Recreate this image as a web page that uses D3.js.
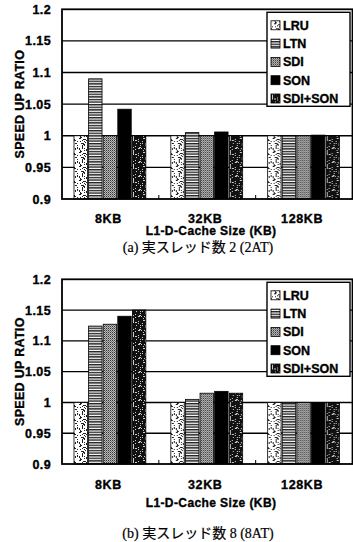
<!DOCTYPE html>
<html>
<head>
<meta charset="utf-8">
<script src="https://cdn.jsdelivr.net/npm/d3@7"></script>
<style>
  body { margin: 0; background: #fff; }
  svg { display: block; }
  .tick-lbl { font-family: "Liberation Sans", Arial, sans-serif; font-weight: bold; stroke: #000; stroke-width: 0.35; }
</style>
</head>
<body>
<div id="chart"></div>
<script>
// Data
const categories = ["8KB", "32KB", "128KB"];
const seriesNames = ["LRU", "LTN", "SDI", "SON", "SDI+SON"];
const yTicks = [0.9, 0.95, 1, 1.05, 1.1, 1.15, 1.2];

// (a) 2AT
const valuesA = [
  [1.0, 1.09, 1.0, 1.042, 1.0],
  [1.0, 1.005, 1.0, 1.006, 1.0],
  [1.0, 1.0, 1.0, 1.001, 1.0]
];
// (b) 8AT
const valuesB = [
  [1.0, 1.124, 1.127, 1.14, 1.15],
  [1.0, 1.005, 1.015, 1.018, 1.015],
  [1.0, 1.0, 1.0, 1.0, 1.0]
];

const W = 353, H = 542;
const svg = d3.select("#chart").append("svg")
  .attr("width", W).attr("height", H);

// --- texture patterns (print-style fills) ---
const defs = svg.append("defs");

// deterministic pseudo noise for speckle textures
function noise(i) {
  const s = Math.sin(i * 12.9898 + 78.233) * 43758.5453;
  return s - Math.floor(s);
}
function speckle(id, bg, fg, n, size) {
  const p = defs.append("pattern").attr("id", id)
    .attr("patternUnits", "userSpaceOnUse")
    .attr("width", size).attr("height", size);
  p.append("rect").attr("width", size).attr("height", size).attr("fill", bg);
  for (let i = 0; i < n; i++) {
    p.append("rect")
      .attr("x", Math.floor(noise(i + n) * size))
      .attr("y", Math.floor(noise(i * 3 + 7) * size))
      .attr("width", 1).attr("height", 1)
      .attr("fill", fg);
  }
}
speckle("pLRU", "#fff", "#222", 45, 14);
speckle("pMIX", "#111", "#ccc", 34, 14);

// LTN: horizontal stripes
const pl = defs.append("pattern").attr("id", "pLTN")
  .attr("patternUnits", "userSpaceOnUse").attr("width", 6).attr("height", 2.6);
pl.append("rect").attr("width", 6).attr("height", 2.6).attr("fill", "#fff");
pl.append("rect").attr("y", 0).attr("width", 6).attr("height", 1.4).attr("fill", "#222");

// SDI: fine vertical dotted lines
const ps = defs.append("pattern").attr("id", "pSDI")
  .attr("patternUnits", "userSpaceOnUse").attr("width", 2).attr("height", 2);
ps.append("rect").attr("width", 2).attr("height", 2).attr("fill", "#bbb");
ps.append("rect").attr("x", 0).attr("width", 1).attr("height", 1).attr("fill", "#333");
ps.append("rect").attr("x", 1).attr("y", 1).attr("width", 1).attr("height", 1).attr("fill", "#777");

const fills = ["url(#pLRU)", "url(#pLTN)", "url(#pSDI)", "#000", "url(#pMIX)"];

function drawPanel(values, top, bottom, labelY, titleY, captionY, caption) {
  const left = 62, right = 352.5;
  const g = svg.append("g");

  const y = d3.scaleLinear().domain([0.9, 1.2]).range([bottom, top]);
  const x0 = d3.scaleBand().domain(categories).range([left, right]).padding(0);
  const x1 = d3.scaleBand().domain(seriesNames)
    .range([12, x0.bandwidth() - 13]).paddingInner(0.08);

  // gridlines
  g.append("g").selectAll("line")
    .data(yTicks.slice(1, -1))
    .join("line")
    .attr("x1", left).attr("x2", right)
    .attr("y1", d => y(d)).attr("y2", d => y(d))
    .attr("stroke", "#000").attr("stroke-width", 1.4);

  // bars
  g.append("g").selectAll("g")
    .data(values)
    .join("g")
    .attr("transform", (d, i) => `translate(${x0(categories[i])},0)`)
    .selectAll("rect")
    .data(d => d)
    .join("rect")
    .attr("x", (d, j) => x1(seriesNames[j]))
    .attr("width", x1.bandwidth())
    .attr("y", d => y(d))
    .attr("height", d => y(0.9) - y(d))
    .attr("fill", (d, j) => fills[j])
    .attr("stroke", "#000")
    .attr("stroke-width", 0.8);

  // frame
  g.append("rect")
    .attr("x", left).attr("y", top)
    .attr("width", right - left).attr("height", bottom - top)
    .attr("fill", "none").attr("stroke", "#000").attr("stroke-width", 1.8);

  // small category separators on x axis
  g.append("g").selectAll("line")
    .data(categories.slice(1))
    .join("line")
    .attr("x1", d => x0(d)).attr("x2", d => x0(d))
    .attr("y1", bottom).attr("y2", bottom - 4)
    .attr("stroke", "#000").attr("stroke-width", 1);

  // y tick labels
  g.append("g").selectAll("text")
    .data(yTicks)
    .join("text")
    .attr("class", "tick-lbl")
    .attr("x", 51).attr("y", d => y(d))
    .attr("dy", "0.36em")
    .attr("text-anchor", "end")
    .attr("font-size", 12.5)
    .attr("letter-spacing", 0.4)
    .text(d => d);

  // x labels
  g.append("g").selectAll("text")
    .data(categories)
    .join("text")
    .attr("class", "tick-lbl")
    .attr("x", d => x0(d) + x0.bandwidth() / 2 - 2)
    .attr("y", labelY)
    .attr("dy", "0.36em")
    .attr("text-anchor", "middle")
    .attr("font-size", 12.5)
    .attr("letter-spacing", 0.6)
    .text(d => d);

  // axis titles
  g.append("text")
    .attr("class", "tick-lbl")
    .attr("transform", `translate(19,${(top + bottom) / 2}) rotate(-90)`)
    .attr("text-anchor", "middle")
    .attr("dy", "0.36em")
    .attr("font-size", 12.5)
    .attr("letter-spacing", 0.3)
    .text("SPEED UP RATIO");

  g.append("text")
    .attr("class", "tick-lbl")
    .attr("x", 211).attr("y", titleY)
    .attr("dy", "0.36em")
    .attr("text-anchor", "middle")
    .attr("font-size", 12)
    .attr("letter-spacing", 0.4)
    .text("L1-D-Cache Size (KB)");

  g.append("text")
    .attr("x", 198).attr("y", captionY)
    .attr("dy", "0.36em")
    .attr("text-anchor", "middle")
    .attr("font-family", "'Liberation Serif', 'Noto Sans CJK JP', serif")
    .attr("font-size", 14)
    .attr("stroke", "#000").attr("stroke-width", 0.2)
    .text(caption);

  // legend
  const lg = g.append("g").attr("transform", `translate(267,${top + 3})`);
  lg.append("rect")
    .attr("width", 83).attr("height", 94)
    .attr("fill", "#fff").attr("stroke", "#000").attr("stroke-width", 1.4);
  const item = lg.selectAll("g")
    .data(seriesNames)
    .join("g")
    .attr("transform", (d, i) => `translate(4,${13 + i * 18.3})`);
  item.append("rect")
    .attr("x", 0).attr("y", -4.5)
    .attr("width", 9).attr("height", 9)
    .attr("fill", (d, i) => fills[i])
    .attr("stroke", "#000").attr("stroke-width", 0.8);
  item.append("text")
    .attr("class", "tick-lbl")
    .attr("x", 12).attr("dy", "0.36em")
    .attr("font-size", 12.5)
    .text(d => d);
}

drawPanel(valuesA, 9.3, 199, 218, 231, 247, "(a) 実スレッド数 2 (2AT)");
drawPanel(valuesB, 279.3, 464, 484, 503, 533, "(b) 実スレッド数 8 (8AT)");
</script>
</body>
</html>
